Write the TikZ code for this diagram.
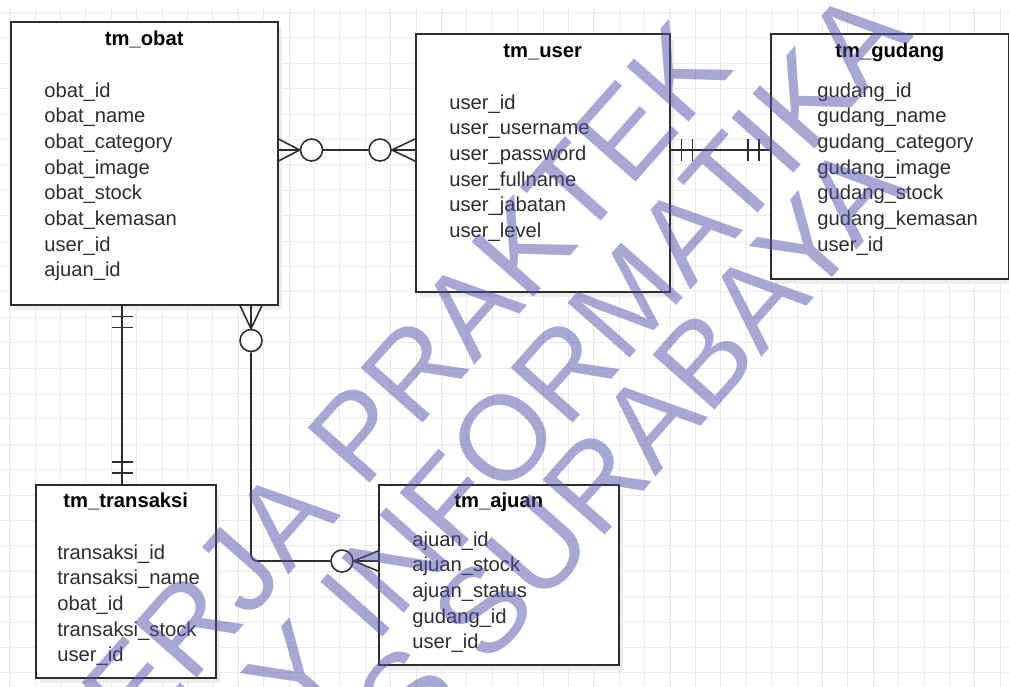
\documentclass[tikz,border=0pt]{standalone}
\usepackage{fontspec}
\setmainfont{Liberation Sans}
\usetikzlibrary{positioning, calc}
\definecolor{wmblue}{RGB}{81,81,169}
\definecolor{gridgray}{RGB}{234,234,234}
\definecolor{linegray}{RGB}{45,45,45}
\tikzset{
	entity/.style={draw=linegray, line width=0.9pt, fill=white, rectangle, inner sep=0pt, anchor=north west},
	shadebox/.style={fill=black!7, draw=none, rectangle, inner sep=0pt, anchor=north west},
	title/.style={font=\fontsize{11.5}{14}\selectfont\bfseries, anchor=base, inner sep=0pt},
	attr/.style={font=\fontsize{11.5}{14}\selectfont, text=linegray, anchor=base west, inner sep=0pt},
	rel/.style={line width=0.9pt, draw=linegray},
	ring/.style={circle, draw=linegray, line width=0.9pt, fill=white, minimum size=0.44cm, inner sep=0pt},
	gridline/.style={gridgray, line width=0.5pt},
	wmark/.style={font=\fontsize{68.5}{70}\selectfont, text=wmblue, opacity=0.5, rotate=48.5, inner sep=0pt}
}

\begin{document}
\begin{tikzpicture}[x=0.02cm, y=-0.02cm]
			\useasboundingbox (0,0) rectangle (1009,687);
			\fill[white] (0,0) rectangle (1009,687);
			% background grid
			\foreach \k in {0,...,39}
				\draw[gridline] ({9.7+25.4*\k},8) -- ({9.7+25.4*\k},687);
			\foreach \k in {0,...,26}
				\draw[gridline] (0,{12.5+25.4*\k}) -- (1009,{12.5+25.4*\k});
			% shadows
			\node[shadebox, minimum width=5.34cm, minimum height=5.66cm] (obat-s) at (15,27) {};
			\node[shadebox, minimum width=5.08cm, minimum height=5.16cm] (user-s) at (420,39) {};
			\node[shadebox, minimum width=4.76cm, minimum height=4.90cm] (gudang-s) at (775,39) {};
			\node[shadebox, minimum width=3.60cm, minimum height=3.86cm] (transaksi-s) at (40,490) {};
			\node[shadebox, minimum width=4.80cm, minimum height=3.60cm] (ajuan-s) at (383,490) {};
			% tables
			\node[entity, minimum width=5.34cm, minimum height=5.66cm] (obat) at (10,21) {};
			\node[entity, minimum width=5.08cm, minimum height=5.16cm] (user) at (415,33) {};
			\node[entity, minimum width=4.76cm, minimum height=4.90cm] (gudang) at (770,33) {};
			\node[entity, minimum width=3.60cm, minimum height=3.86cm] (transaksi) at (35,484) {};
			\node[entity, minimum width=4.80cm, minimum height=3.60cm] (ajuan) at (378,484) {};
			% titles
			\node[title] (obat-t) at ($(obat.north)+(0,24)$) {tm\_obat};
			\node[title] (user-t) at ($(user.north)+(0,24)$) {tm\_user};
			\node[title] (gudang-t) at ($(gudang.north)+(0,24)$) {tm\_gudang};
			\node[title] (transaksi-t) at ($(transaksi.north)+(0,23)$) {tm\_transaksi};
			\node[title] (ajuan-t) at ($(ajuan.north)+(0,23)$) {tm\_ajuan};
			% columns
			\foreach \a [count=\i] in {obat\_id, obat\_name, obat\_category, obat\_image, obat\_stock, obat\_kemasan, user\_id, ajuan\_id}
				\node[attr] (obat-\i) at ($(obat.north west)+(34,{76+25.7*(\i-1)})$) {\a};
			\foreach \a [count=\i] in {user\_id, user\_username, user\_password, user\_fullname, user\_jabatan, user\_level}
				\node[attr] (user-\i) at ($(user.north west)+(34,{76+25.7*(\i-1)})$) {\a};
			\foreach \a [count=\i] in {gudang\_id, gudang\_name, gudang\_category, gudang\_image, gudang\_stock, gudang\_kemasan, user\_id}
				\node[attr] (gudang-\i) at ($(gudang.north west)+(47,{64+25.7*(\i-1)})$) {\a};
			\foreach \a [count=\i] in {transaksi\_id, transaksi\_name, obat\_id, transaksi\_stock, user\_id}
				\node[attr] (transaksi-\i) at ($(transaksi.north west)+(22,{75+25.7*(\i-1)})$) {\a};
			\foreach \a [count=\i] in {ajuan\_id, ajuan\_stock, ajuan\_status, gudang\_id, user\_id}
				\node[attr] (ajuan-\i) at ($(ajuan.north west)+(34,{62+25.7*(\i-1)})$) {\a};
			% obat - user : zero or many on both sides
			\node[ring] (ou-o) at ($(obat.north east)+(33,129)$) {};
			\node[ring] (ou-u) at ($(user.north west)+(-35,117)$) {};
			\draw[rel] (ou-o) -- (ou-u);
			\draw[rel] ($(obat.north east)+(0,118)$) -- (ou-o.west) -- ($(obat.north east)+(0,140)$)
				(obat.north east |- ou-o) -- (ou-o.west);
			\draw[rel] ($(user.north west)+(0,106)$) -- (ou-u.east) -- ($(user.north west)+(0,128)$)
				(user.north west |- ou-u) -- (ou-u.east);
			% user - gudang : one and only one
			\draw[rel] (user.north east |- ou-u) -- (gudang.north west |- ou-u);
			\foreach \d in {11,22}
				\draw[rel] ($(user.north east)+(\d,106)$) -- ++(0,22);
			\foreach \d in {11,22}
				\draw[rel] ($(gudang.north west)+(-\d,106)$) -- ++(0,22);
			% obat - transaksi : one and only one
			\coordinate (ot) at ($(obat.south west)+(112,0)$);
			\draw[rel] (ot) -- (ot |- transaksi.north);
			\foreach \d in {11,22}
				\draw[rel] ($(ot)+(-10,\d)$) -- ++(21,0);
			\foreach \d in {11,22}
				\draw[rel] ($(ot |- transaksi.north)+(-10,-\d)$) -- ++(21,0);
			% obat - ajuan : zero or many on both sides
			\node[ring] (oa-o) at ($(obat.south west)+(241,35)$) {};
			\node[ring] (oa-a) at ($(ajuan.north west)+(-36,77)$) {};
			\draw[rel] ($(obat.south west)+(230,0)$) -- (oa-o.north) -- ($(obat.south west)+(252,0)$)
				(oa-o.north |- obat.south) -- (oa-o.north);
			\draw[rel, rounded corners=0.12cm] (oa-o.south) |- (oa-a.west);
			\draw[rel] ($(ajuan.north west)+(0,67)$) -- (oa-a.east) -- ($(ajuan.north west)+(0,87)$)
				(ajuan.north west |- oa-a) -- (oa-a.east);
			% watermark
			\begin{scope}
				\clip (0,0) rectangle (1009,687);
				\node[wmark, anchor=base west] (wm-1) at (84,806) {KERJA PRAKTEK};
				\node[wmark, anchor=base west] (wm-2) at (300,731) {Y INFORMATIKA};
				\node[wmark, anchor=base east] (wm-3) at (910,190) {UNIVERSITAS SURABAYA};
			\end{scope}
\end{tikzpicture}
\end{document}
